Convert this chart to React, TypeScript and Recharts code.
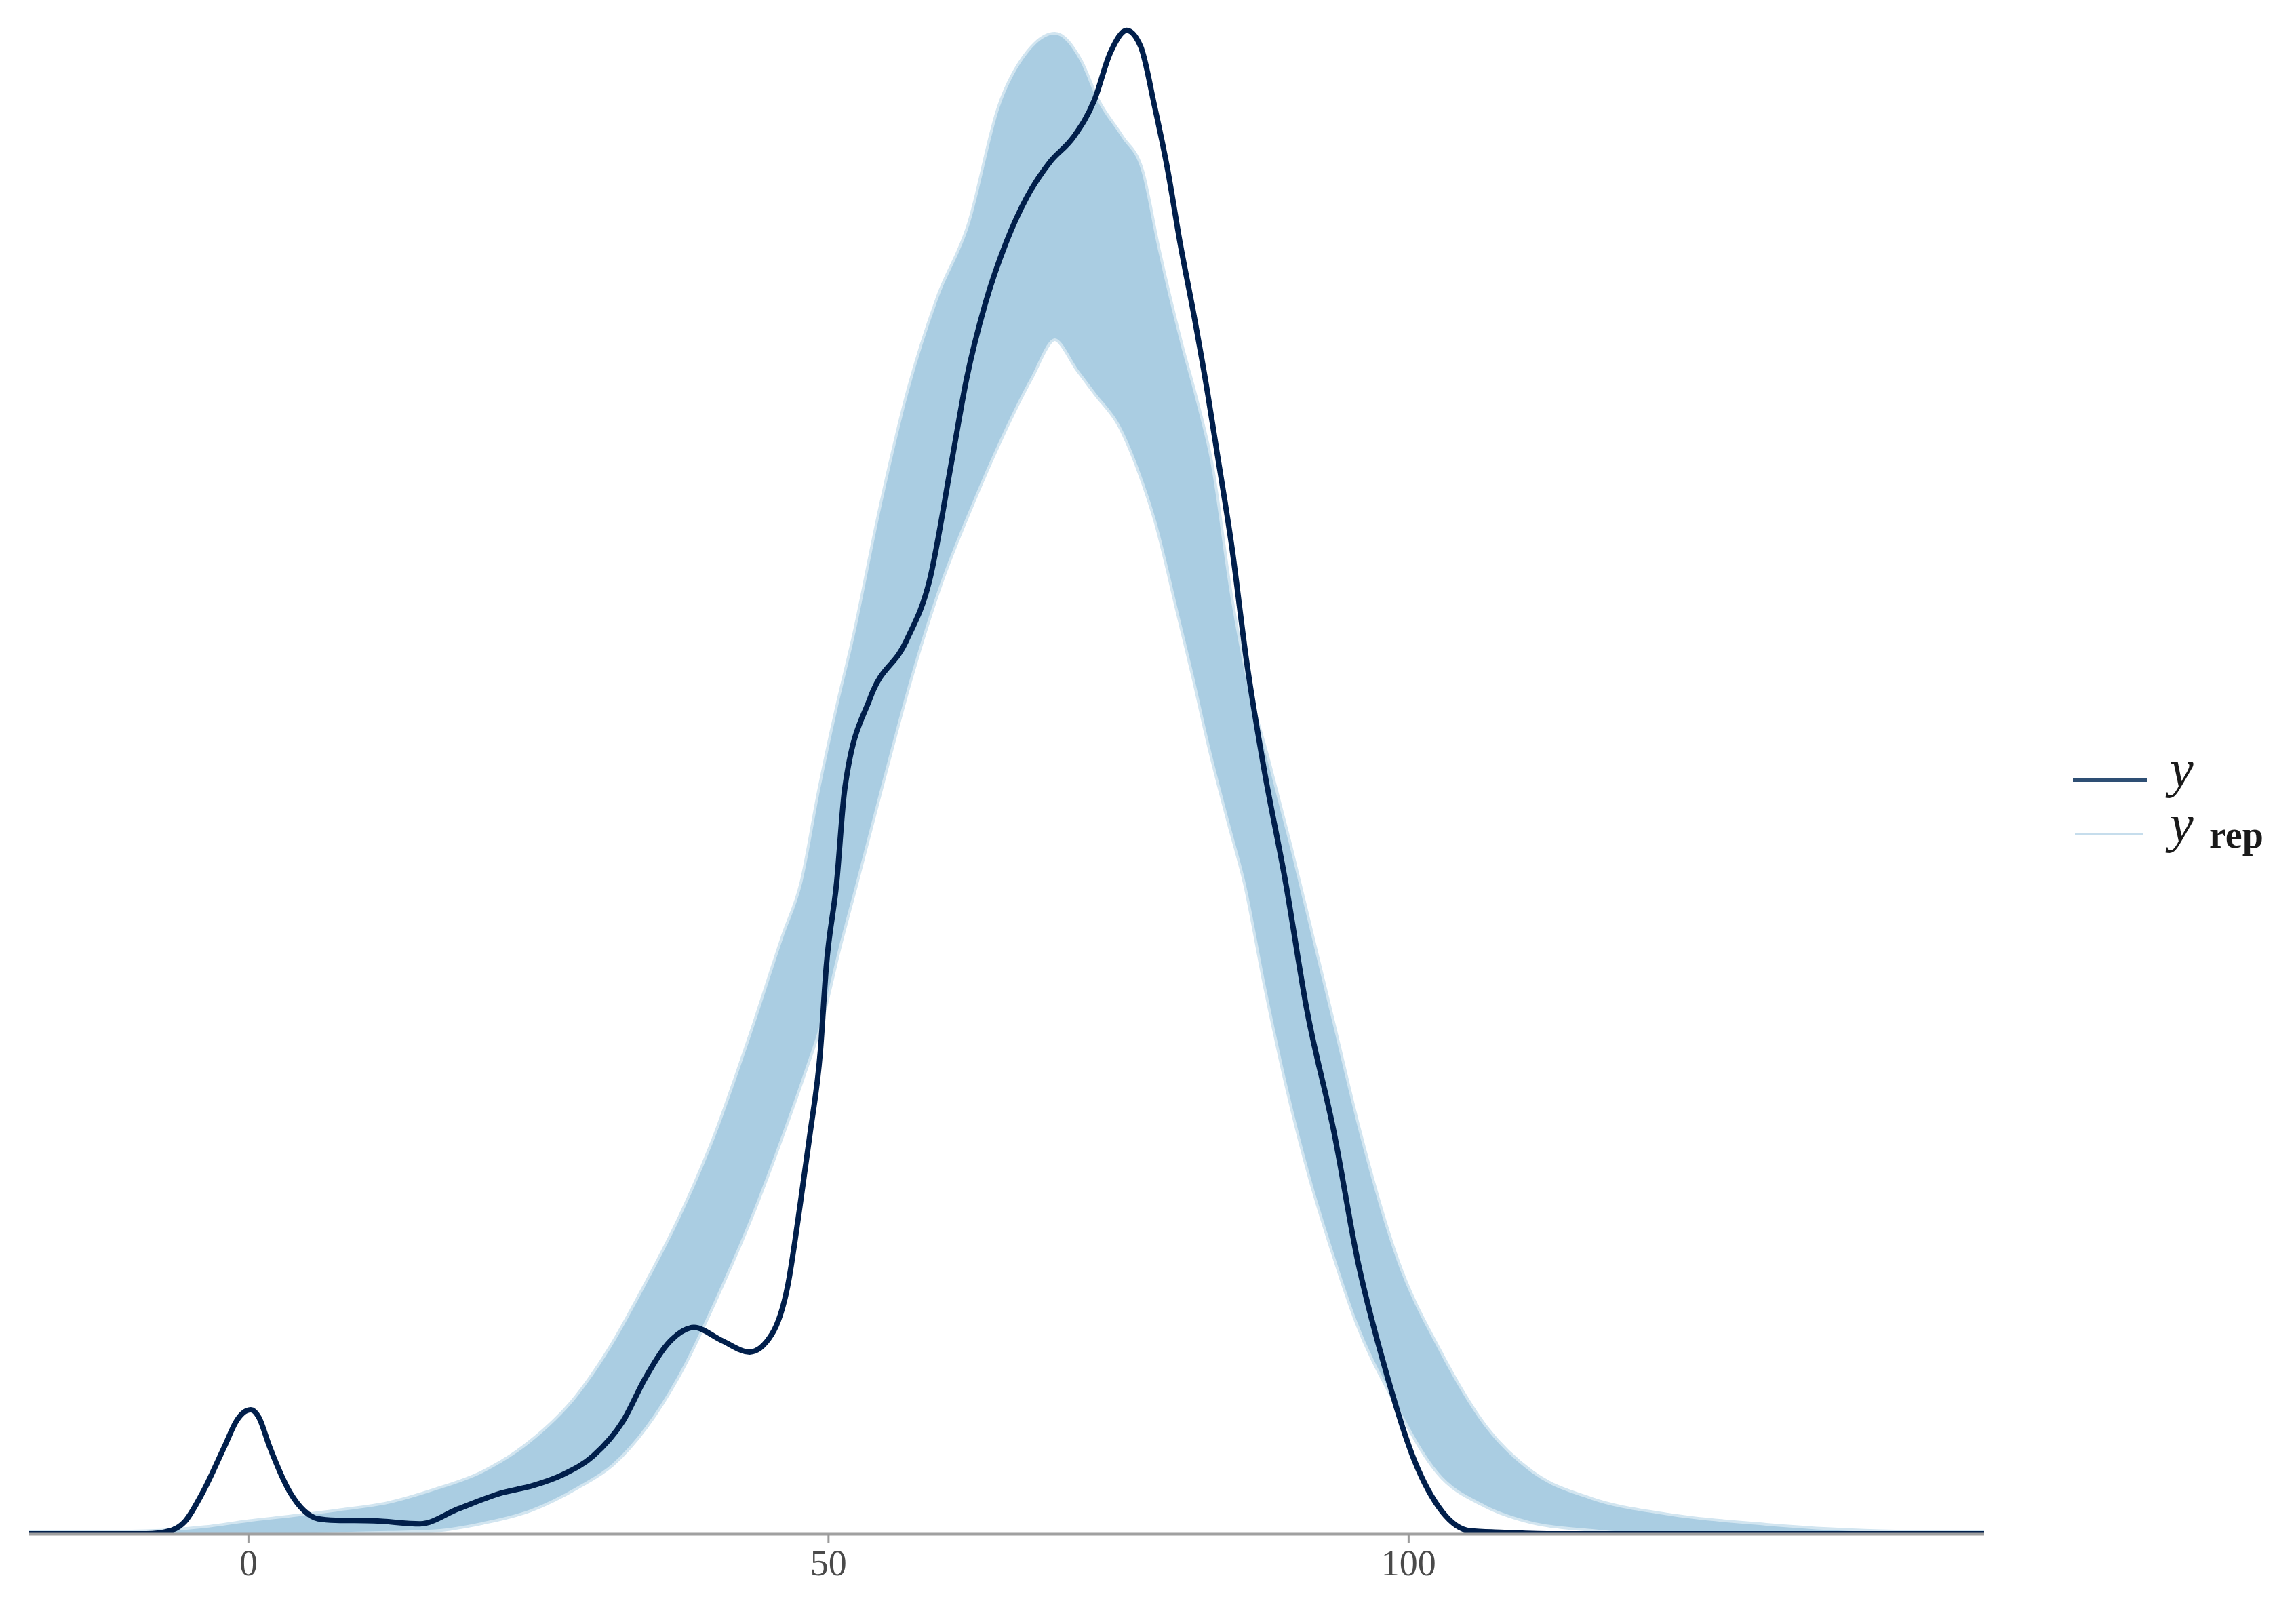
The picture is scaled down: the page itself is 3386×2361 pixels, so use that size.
import React from "react";
import { ComposedChart, Area, Line, XAxis, YAxis } from "recharts";

// observed density (y)
const yX = [
  -18.9, -8.8, -6.8, -5.5, -4.0, -2.1, -1.0, -0.5, 0.2, 0.9, 1.8, 3.6, 4.8, 6.0, 7.5, 10.8, 14.8,
  18.1, 21.9, 24.5, 27.1, 29.7, 32.3, 34.2, 36.4, 38.4, 40.8, 43.2, 45.1, 46.5, 47.4, 48.4, 49.3,
  49.8, 50.7, 51.4, 53.6, 56.7, 58.7, 60.6, 61.9, 63.5, 65.3, 67.1, 69.1, 71.1, 72.9, 74.3, 75.7,
  76.9, 78.1, 79.2, 80.3, 81.5, 82.7, 83.4, 84.8, 86.0, 87.5, 89.4, 91.2, 93.6, 95.6, 97.9, 100.5,
  102.9, 105.3, 107.9, 112.3, 149.6,
];
const yDens = [
  0, 0, 0.00006, 0.00024, 0.0008, 0.00172, 0.00226, 0.0024, 0.00247, 0.00232, 0.00175, 0.00082,
  0.00046, 0.0003, 0.00027, 0.00026, 0.0002, 0.0005, 0.00082, 0.00096, 0.00118, 0.00155, 0.00225,
  0.0031, 0.00385, 0.00411, 0.00385, 0.00362, 0.00397, 0.00496, 0.0063, 0.00796, 0.00962, 0.01128,
  0.01297, 0.01484, 0.01665, 0.01778, 0.01898, 0.02134, 0.023, 0.02449, 0.02571, 0.02662, 0.02732,
  0.02781, 0.02854, 0.0295, 0.02994, 0.02962, 0.02843, 0.0272, 0.02571, 0.02426, 0.02268, 0.02166,
  0.01959, 0.01743, 0.01528, 0.01297, 0.01047, 0.00796, 0.00545, 0.00335, 0.00146, 0.00044, 0.00006,
  0.00003, 0, 0,
];

// envelope of the replicated densities (y_rep)
const bandX = [
  -18.9, -13.9, -8.8, -3.8, 0, 3.8, 7.9, 12.0, 16.1, 20.2, 24.3, 28.3, 31.3, 34.2, 37.3, 40.2,
  43.2, 46.2, 47.8, 49.3, 50.8, 52.3, 54.6, 57.0, 59.5, 62.2, 64.8, 67.3, 69.5, 71.6, 73.1, 75.2,
  76.9, 78.3, 80.3, 81.5, 82.9, 84.6, 86.0, 87.8, 89.7, 91.6, 93.5, 95.6, 98.9, 102.6, 106.6, 110.6,
  115.7, 122.4, 130.8, 136.4, 142.7, 149.6,
];
const bandHi = [
  0, 0, 0.00002, 0.0001, 0.00022, 0.00032, 0.00044, 0.00058, 0.00085, 0.0012, 0.0018, 0.0027,
  0.0037, 0.0049, 0.0063, 0.00785, 0.0098, 0.0119, 0.01297, 0.01478, 0.0164, 0.01787, 0.02044,
  0.02277, 0.02459, 0.02606, 0.0284, 0.0295, 0.02984, 0.02933, 0.02854, 0.0278, 0.02714, 0.0256,
  0.02367, 0.02265, 0.02129, 0.01863, 0.01694, 0.01538, 0.01368, 0.01187, 0.01006, 0.00805, 0.00545,
  0.00362, 0.0021, 0.0012, 0.00067, 0.00035, 0.00015, 0.00006, 0.00001, 0,
];
const bandLo = [
  0, 0, 0, 0, 0.00001, 0.00003, 0.00005, 0.00007, 0.0001, 0.00025, 0.0005, 0.00095, 0.0014,
  0.00215, 0.0033, 0.0047, 0.0063, 0.00813, 0.00918, 0.01023, 0.01166, 0.01297, 0.01501, 0.01706,
  0.01889, 0.02047, 0.02184, 0.023, 0.02382, 0.02318, 0.02272, 0.02207, 0.02115, 0.02017, 0.01828,
  0.01713, 0.01571, 0.01418, 0.01297, 0.01085, 0.00883, 0.00711, 0.00567, 0.00424, 0.00265, 0.00124,
  0.00059, 0.00026, 0.00011, 0.00001, 0, 0, 0, 0,
];

const xTicks = [0, 50, 100];

const yData = yX.map((x, i) => ({ x, y: yDens[i] }));
const bandData = bandX.map((x, i) => ({ x, lo: bandLo[i], hi: bandHi[i] }));

const DARK = "#011f4b";
const LIGHT = "#aacde2";
const serif = "'Liberation Serif', 'DejaVu Serif', serif";

const LegendBox = () => (
  <svg width={386} height={220} style={{ position: "absolute", left: 3000, top: 1080 }}>
    <line x1={57} x2={167} y1={70} y2={70} stroke="#2e4f74" strokeWidth={6} />
    <line x1={60} x2={160} y1={150} y2={150} stroke="#c6ddec" strokeWidth={4} />
    <text x={200} y={80} fontFamily={serif} fontStyle="italic" fontSize={78} fill="#1a1a1a">
      y
    </text>
    <text x={200} y={161} fontFamily={serif} fontStyle="italic" fontSize={78} fill="#1a1a1a">
      y
    </text>
    <text x={258} y={170} fontFamily={serif} fontWeight="bold" fontSize={56} fill="#1a1a1a">
      rep
    </text>
  </svg>
);

export default function App() {
  return (
    <div style={{ position: "absolute", left: 0, top: 0, width: 3386, height: 2361, background: "#fff" }}>
      <ComposedChart
        width={3386}
        height={2361}
        margin={{ top: 18, right: 460, bottom: 0, left: 43 }}
      >
        <XAxis
          type="number"
          dataKey="x"
          domain={[-18.9, 149.6]}
          allowDataOverflow
          ticks={xTicks}
          height={99}
          tickSize={14}
          tickMargin={9}
          axisLine={{ stroke: "#a0a0a0", strokeWidth: 5 }}
          tickLine={{ stroke: "#9a9a9a", strokeWidth: 3 }}
          tick={{ fontFamily: serif, fontSize: 54, fill: "#4a4a4a" }}
        />
        <YAxis hide type="number" domain={[0, 0.0303]} allowDataOverflow />
        <Area
          data={bandData}
          dataKey={(d: any) => [d.lo, d.hi]}
          type="monotone"
          fill={LIGHT}
          fillOpacity={1}
          stroke="#d2e5f0"
          strokeWidth={10}
          isAnimationActive={false}
        />
        <Area
          data={bandData}
          dataKey={(d: any) => [d.lo, d.hi]}
          type="monotone"
          fill={LIGHT}
          fillOpacity={1}
          stroke={LIGHT}
          strokeWidth={2}
          isAnimationActive={false}
        />
        <Line
          data={yData}
          dataKey="y"
          type="monotone"
          stroke={DARK}
          strokeWidth={8}
          dot={false}
          isAnimationActive={false}
        />
      </ComposedChart>
      <LegendBox />
    </div>
  );
}
